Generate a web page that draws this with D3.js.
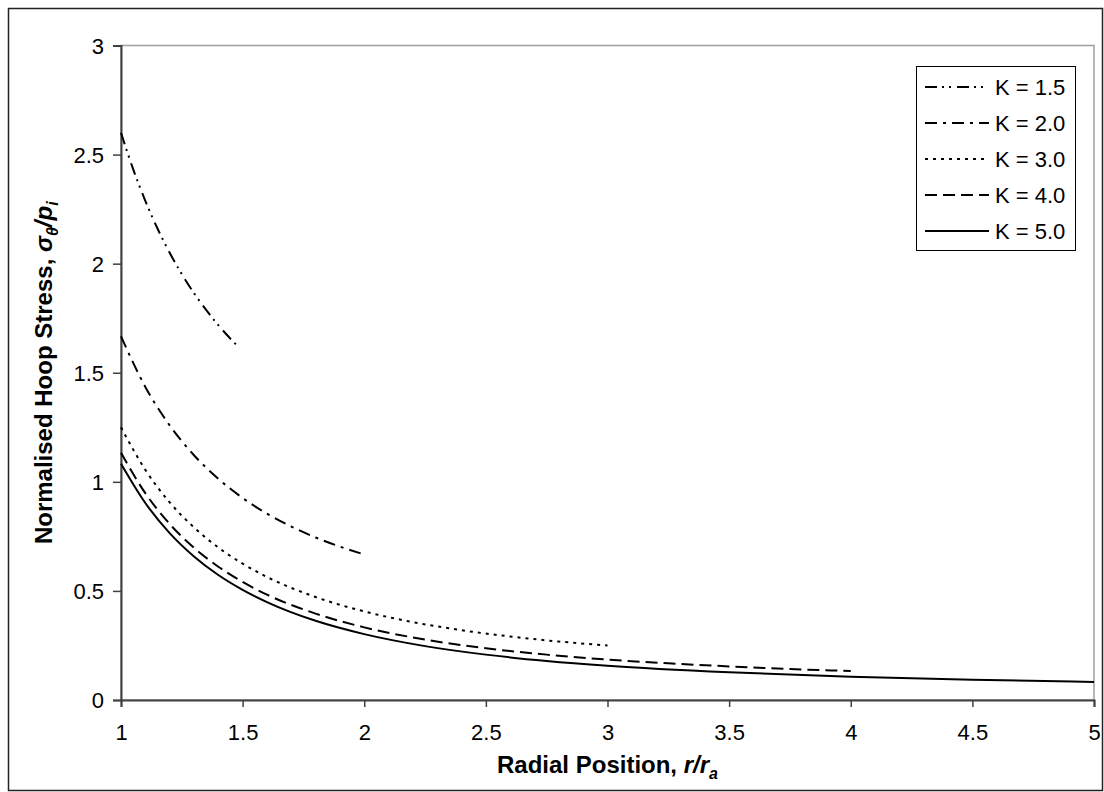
<!DOCTYPE html>
<html>
<head>
<meta charset="utf-8">
<script src="https://cdn.jsdelivr.net/npm/d3@7"></script>
<style>
  html, body { margin: 0; padding: 0; background: #fff; }
  svg { display: block; font-family: "Liberation Sans", Arial, sans-serif; }
</style>
</head>
<body>
<svg id="chart" width="1104" height="792"></svg>
<script>
// ---- Data ----
const seriesNames = ["K = 1.5", "K = 2.0", "K = 3.0", "K = 4.0", "K = 5.0"];

const rK15 = [1, 1.05, 1.1, 1.15, 1.2, 1.25, 1.3, 1.35, 1.4, 1.45, 1.475];
const sK15 = [2.600, 2.433, 2.288, 2.161, 2.050, 1.952, 1.865, 1.788, 1.718, 1.656, 1.627];

const rK20 = [1, 1.1, 1.2, 1.3, 1.4, 1.5, 1.6, 1.7, 1.8, 1.9, 2.0];
const sK20 = [1.667, 1.435, 1.259, 1.122, 1.014, 0.926, 0.854, 0.795, 0.745, 0.703, 0.667];

const rK30 = [1, 1.1, 1.2, 1.3, 1.4, 1.5, 1.6, 1.8, 2.0, 2.2, 2.4, 2.6, 2.8, 3.0];
const sK30 = [1.250, 1.055, 0.906, 0.791, 0.699, 0.625, 0.564, 0.472, 0.406, 0.357, 0.320, 0.291, 0.268, 0.250];

const rK40 = [1, 1.1, 1.2, 1.3, 1.4, 1.5, 1.6, 1.8, 2.0, 2.25, 2.5, 2.75, 3.0, 3.25, 3.5, 3.75, 4.0];
const sK40 = [1.133, 0.948, 0.807, 0.698, 0.611, 0.541, 0.483, 0.396, 0.333, 0.277, 0.237, 0.208, 0.185, 0.168, 0.154, 0.142, 0.133];

const rK50 = [1, 1.1, 1.2, 1.3, 1.4, 1.5, 1.6, 1.8, 2.0, 2.25, 2.5, 2.75, 3.0, 3.5, 4.0, 4.5, 5.0];
const sK50 = [1.083, 0.903, 0.765, 0.658, 0.573, 0.505, 0.449, 0.363, 0.302, 0.247, 0.208, 0.179, 0.157, 0.127, 0.107, 0.093, 0.083];

const xTicks = [1, 1.5, 2, 2.5, 3, 3.5, 4, 4.5, 5];
const yTicks = [0, 0.5, 1, 1.5, 2, 2.5, 3];

// ---- Layout ----
const svg = d3.select("#chart");
const plot = { left: 121, right: 1094, top: 45.5, bottom: 700 };

const x = d3.scaleLinear().domain([1, 5]).range([plot.left, plot.right]);
const y = d3.scaleLinear().domain([0, 3]).range([plot.bottom, plot.top]);

// outer chart border
svg.append("rect")
  .attr("x", 8.5).attr("y", 8.5)
  .attr("width", 1094).attr("height", 782)
  .attr("fill", "#fff").attr("stroke", "#222").attr("stroke-width", 1.5);

// plot area border (top/right visible in gray)
svg.append("rect")
  .attr("x", plot.left).attr("y", plot.top)
  .attr("width", plot.right - plot.left).attr("height", plot.bottom - plot.top)
  .attr("fill", "#fff").attr("stroke", "#a0a0a0").attr("stroke-width", 1.5);

// axes
const xAxis = d3.axisBottom(x).tickValues(xTicks).tickSize(7).tickPadding(17)
  .tickFormat(d3.format("~g"));
const yAxis = d3.axisLeft(y).tickValues(yTicks).tickSize(8).tickPadding(9)
  .tickFormat(d3.format("~g"));

const gx = svg.append("g").attr("transform", `translate(0,${plot.bottom})`).call(xAxis);
const gy = svg.append("g").attr("transform", `translate(${plot.left},0)`).call(yAxis);

[gx, gy].forEach(g => {
  g.select(".domain").attr("stroke", "#404040").attr("stroke-width", 2);
  g.selectAll(".tick line").attr("stroke", "#404040").attr("stroke-width", 1.5);
  g.selectAll(".tick text").attr("fill", "#000")
    .style("font-size", "22px").style("font-family", "'Liberation Sans', Arial, sans-serif");
});
gy.selectAll(".tick text").attr("dy", "0.35em");

// series
const dashes = ["12,5,2,5,2,6", "12,6,3,6", "3,5", "12,6", null];
const rs = [rK15, rK20, rK30, rK40, rK50];
const ss = [sK15, sK20, sK30, sK40, sK50];

const line = d3.line().x(d => x(d[0])).y(d => y(d[1])).curve(d3.curveMonotoneX);

seriesNames.forEach((name, i) => {
  const pts = rs[i].map((r, j) => [r, ss[i][j]]);
  svg.append("path")
    .datum(pts)
    .attr("d", line)
    .attr("fill", "none")
    .attr("stroke", "#000")
    .attr("stroke-width", 2)
    .attr("stroke-dasharray", dashes[i]);
});

// legend
const lg = svg.append("g");
lg.append("rect")
  .attr("x", 916.5).attr("y", 66.5).attr("width", 159).attr("height", 184)
  .attr("fill", "#fff").attr("stroke", "#000").attr("stroke-width", 1);

const rowY = [87, 123, 159, 195, 231];
seriesNames.forEach((name, i) => {
  lg.append("line")
    .attr("x1", 925).attr("x2", 989)
    .attr("y1", rowY[i]).attr("y2", rowY[i])
    .attr("stroke", "#000").attr("stroke-width", 2)
    .attr("stroke-dasharray", dashes[i]);
  lg.append("text")
    .attr("x", 995).attr("y", rowY[i]).attr("dy", "0.36em")
    .style("font-size", "22px").attr("fill", "#000")
    .text(name);
});

// y axis title
const yt = svg.append("text")
  .attr("transform", `translate(52,${(plot.top + plot.bottom) / 2}) rotate(-90)`)
  .attr("text-anchor", "middle")
  .style("font-size", "24px").style("font-weight", "bold").attr("fill", "#000");
yt.append("tspan").text("Normalised Hoop Stress, ");
yt.append("tspan").style("font-style", "italic").text("σ");
yt.append("tspan").style("font-style", "italic").style("font-size", "16px").attr("dy", 6).text("θ");
yt.append("tspan").attr("dy", -6).style("font-style", "italic").text("/p");
yt.append("tspan").style("font-style", "italic").style("font-size", "16px").attr("dy", 6).text("i");

// x axis title
const xt = svg.append("text")
  .attr("x", (plot.left + plot.right) / 2).attr("y", 773)
  .attr("text-anchor", "middle")
  .style("font-size", "24px").style("font-weight", "bold").attr("fill", "#000");
xt.append("tspan").text("Radial Position, ");
xt.append("tspan").style("font-style", "italic").text("r/r");
xt.append("tspan").style("font-style", "italic").style("font-size", "16px").attr("dy", 6).text("a");
</script>
</body>
</html>
